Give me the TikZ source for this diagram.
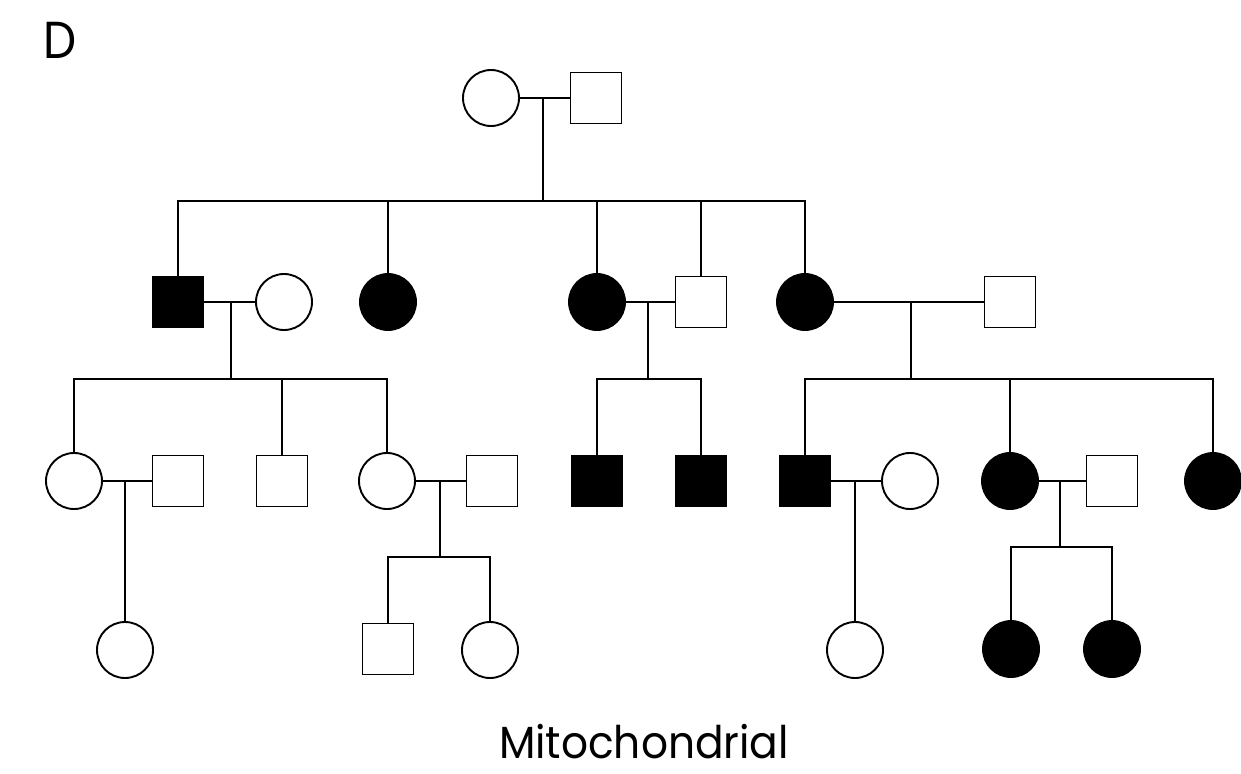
\documentclass[tikz,border=0pt]{standalone}
\usepackage{fontspec}
\setmainfont{Poppins}
\begin{document}
\begin{tikzpicture}[x=1pt,y=-1pt,line width=1.9pt,
  female/.style={circle,draw,fill=white,minimum size=56pt,inner sep=0pt},
  male/.style={rectangle,draw,fill=white,minimum size=51pt,inner sep=0pt},
  affected/.style={fill=black}]
\useasboundingbox (0,0) rectangle (1241,773);

% panel letter and caption
\node[anchor=base west,inner sep=0pt,font=\fontsize{52}{52}\selectfont] (lab) at (43,59) {\scalebox{0.9}[1]{D}};
\node[anchor=base,inner sep=0pt,font=\fontsize{45}{45}\selectfont] (cap) at (644,758) {\scalebox{0.94}[1]{Mitochondrial}};

% generation I
\node[female] (I1) at (491,98) {};
\node[male]   (I2) at (596,98) {};

% generation II
\node[male,affected]   (II1)  at (178,302) {};
\node[female]          (II1w) at (284,302) {};
\node[female,affected] (II2)  at (388,302) {};
\node[female,affected] (II3)  at (597,302) {};
\node[male]            (II4)  at (701,302) {};
\node[female,affected] (II5)  at (805,302) {};
\node[male]            (II5h) at (1010,302) {};

% generation III
\node[female]          (III1)  at (74,481) {};
\node[male]            (III1h) at (178,481) {};
\node[male]            (III2)  at (282,481) {};
\node[female]          (III3)  at (387,481) {};
\node[male]            (III3h) at (492,481) {};
\node[male,affected]   (III4)  at (597,481) {};
\node[male,affected]   (III5)  at (701,481) {};
\node[male,affected]   (III6)  at (805,481) {};
\node[female]          (III6w) at (910,481) {};
\node[female,affected] (III7)  at (1010,481) {};
\node[male]            (III7h) at (1112,481) {};
\node[female,affected] (III8)  at (1213,481) {};

% generation IV
\node[female]          (IV1) at (125,650) {};
\node[male]            (IV2) at (388,649) {};
\node[female]          (IV3) at (490,650) {};
\node[female]          (IV4) at (855,650) {};
\node[female,affected] (IV5) at (1011,649) {};
\node[female,affected] (IV6) at (1112,649) {};

% mating points and sibship lines
\coordinate (mI)   at (543,98);   \coordinate (sI)   at (543,201);
\coordinate (mII1) at (231,302);  \coordinate (sII1) at (231,379);
\coordinate (mII3) at (648,302);  \coordinate (sII3) at (648,379);
\coordinate (mII5) at (911,302);  \coordinate (sII5) at (911,379);
\coordinate (mIII1) at (125,481);
\coordinate (mIII3) at (440,481); \coordinate (sIII3) at (440,557);
\coordinate (mIII6) at (855,481);
\coordinate (mIII7) at (1060,481);\coordinate (sIII7) at (1060,547);

% generation I family
\draw (I1.east) -- (I2.west);
\draw (mI) -- (sI);
\draw (II1.north) -- (II1.north |- sI) -- (II5.north |- sI) -- (II5.north);
\draw (II2.north) -- (II2.north |- sI);
\draw (II3.north) -- (II3.north |- sI);
\draw (II4.north) -- (II4.north |- sI);

% generation II couples
\draw (II1.east) -- (II1w.west);
\draw (mII1) -- (sII1);
\draw (III1.north) -- (III1.north |- sII1) -- (III3.north |- sII1) -- (III3.north);
\draw (III2.north) -- (III2.north |- sII1);

\draw (II3.east) -- (II4.west);
\draw (mII3) -- (sII3);
\draw (III4.north) -- (III4.north |- sII3) -- (III5.north |- sII3) -- (III5.north);

\draw (II5.east) -- (II5h.west);
\draw (mII5) -- (sII5);
\draw (III6.north) -- (III6.north |- sII5) -- (III8.north |- sII5) -- (III8.north);
\draw (III7.north) -- (III7.north |- sII5);

% generation III couples
\draw (III1.east) -- (III1h.west);
\draw (mIII1) -- (IV1.north);

\draw (III3.east) -- (III3h.west);
\draw (mIII3) -- (sIII3);
\draw (IV2.north) -- (IV2.north |- sIII3) -- (IV3.north |- sIII3) -- (IV3.north);

\draw (III6.east) -- (III6w.west);
\draw (mIII6) -- (IV4.north);

\draw (III7.east) -- (III7h.west);
\draw (mIII7) -- (sIII7);
\draw (IV5.north) -- (IV5.north |- sIII7) -- (IV6.north |- sIII7) -- (IV6.north);
\end{tikzpicture}
\end{document}
